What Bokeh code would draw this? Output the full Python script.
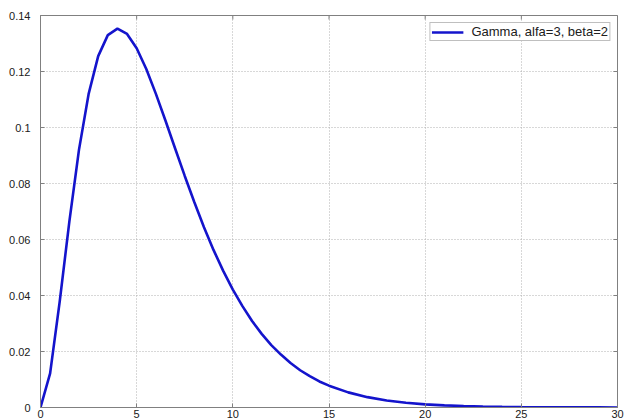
import math
from bokeh.plotting import figure
from bokeh.models import Range1d, FixedTicker, Legend, LegendItem
from bokeh.embed import file_html
from bokeh.resources import INLINE

# Values (curve vertices)
x_vals = [0, 0.5, 1, 1.5, 2, 2.5, 3, 3.5, 4, 4.5, 5, 5.5, 6, 6.5, 7, 7.5, 8, 8.5, 9, 9.5,
          10, 10.5, 11, 11.5, 12, 12.5, 13, 13.5, 14, 14.5, 15, 16, 17, 18, 19, 20,
          21, 22, 23, 24, 25, 26, 27, 28, 29, 30]
density = [0.0, 0.0122, 0.0379, 0.0664, 0.0920, 0.1119, 0.1255, 0.1330, 0.1353, 0.1334,
           0.1283, 0.1209, 0.1120, 0.1024, 0.0925, 0.0827, 0.0733, 0.0644, 0.0562, 0.0488,
           0.0421, 0.0362, 0.0309, 0.0263, 0.0223, 0.0189, 0.0159, 0.0133, 0.0112, 0.0093,
           0.0078, 0.0054, 0.0037, 0.0025, 0.0017, 0.0011, 0.00076, 0.00051, 0.00034,
           0.00022, 0.00015, 0.0001, 0.00006, 0.00004, 0.00003, 0.00002]
series_label = "Gamma, alfa=3, beta=2"

x_ticks = [0, 5, 10, 15, 20, 25, 30]
y_ticks = [0, 0.02, 0.04, 0.06, 0.08, 0.1, 0.12, 0.14]
y_tick_labels = ["0", "0.02", "0.04", "0.06", "0.08", "0.1", "0.12", "0.14"]

FONT = "Liberation Sans"
AX = "#808080"
X_MIN, X_MAX = 0, 30
Y_MIN, Y_MAX = 0, 0.14

p = figure(width=624, height=420, output_backend="svg", toolbar_location=None,
           x_range=Range1d(X_MIN, X_MAX), y_range=Range1d(Y_MIN, Y_MAX),
           min_border_left=40, min_border_right=7, min_border_top=15, min_border_bottom=0,
           background_fill_color="white", border_fill_color="white")
p.outline_line_color = AX
p.outline_line_width = 1

for ax in (p.xaxis[0], p.yaxis[0]):
    ax.axis_line_color = AX
    ax.major_tick_line_color = AX
    ax.major_tick_in = 4
    ax.major_tick_out = 0
    ax.minor_tick_line_color = None
    ax.major_label_text_font = FONT
    ax.major_label_text_font_size = "11px"
    ax.major_label_text_color = "#202020"

p.xaxis[0].ticker = FixedTicker(ticks=x_ticks)
p.xaxis[0].major_label_standoff = 2
p.yaxis[0].ticker = FixedTicker(ticks=y_ticks)
p.yaxis[0].major_label_standoff = 10
p.yaxis[0].major_label_overrides = {t: l for t, l in zip(y_ticks, y_tick_labels)}

p.xgrid.ticker = FixedTicker(ticks=x_ticks)
p.ygrid.ticker = FixedTicker(ticks=y_ticks)
for g in (p.xgrid[0], p.ygrid[0]):
    g.grid_line_color = "#b0b0b0"
    g.grid_line_dash = "1 2"
    g.grid_line_width = 1

# inward ticks on the top and right edges of the box (half of each dash is clipped)
p.scatter(x_ticks, [Y_MAX] * len(x_ticks), marker="dash", size=8, angle=math.pi / 2,
          line_color=AX, line_width=1)
p.scatter([X_MAX] * len(y_ticks), y_ticks, marker="dash", size=8,
          line_color=AX, line_width=1)

r = p.line(x_vals, density, line_color="#1414cc", line_width=2.6)

legend = Legend(items=[LegendItem(label=series_label, renderers=[r])],
                location="top_right", margin=7, padding=1, spacing=0,
                glyph_width=32, glyph_height=10, label_height=10, label_standoff=8,
                label_text_font=FONT, label_text_font_size="13px",
                label_text_color="#202020",
                border_line_color=AX, border_line_width=1,
                background_fill_color="white", background_fill_alpha=1)
p.add_layout(legend, "center")

open("out.html", "w").write(file_html(p, INLINE))
